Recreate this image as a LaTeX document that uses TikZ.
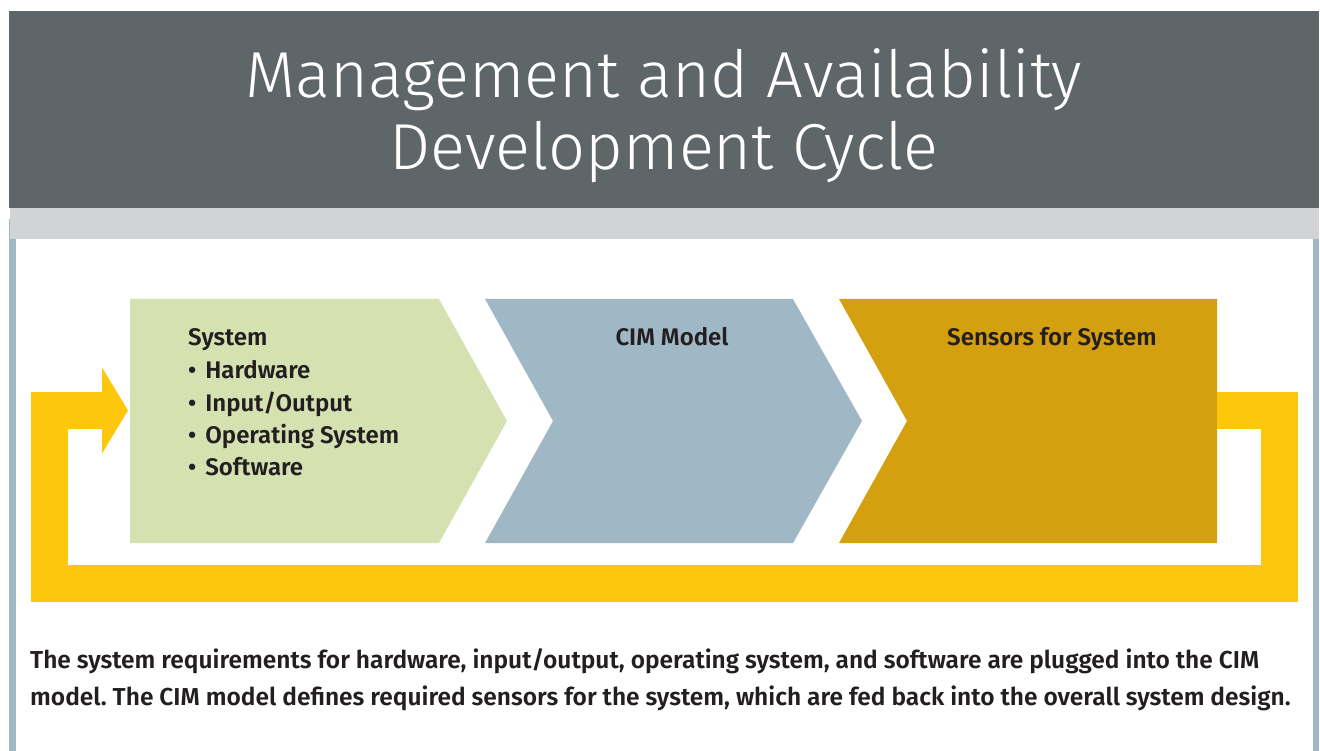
\documentclass[tikz,border=0pt]{standalone}
\usepackage{fontspec}
\setmainfont{Fira Sans}[UprightFont=* SemiBold, BoldFont=* Bold]
\newfontfamily\titlefont{Fira Sans}[UprightFont=* Light]
\usetikzlibrary{arrows.meta}
\frenchspacing

\definecolor{headgray}{HTML}{5F6669}
\definecolor{bandgray}{HTML}{D1D3D4}
\definecolor{frameblue}{HTML}{A0B8C6}
\definecolor{sysgreen}{HTML}{D5E1B1}
\definecolor{cimblue}{HTML}{A0B8C5}
\definecolor{sensgold}{HTML}{D4A00F}
\definecolor{loopyellow}{HTML}{FDC70C}
\definecolor{ink}{HTML}{231F20}

\tikzset{
  boxtext/.style={anchor=base west, inner sep=0pt, text=ink,
    font=\fontsize{24}{24}\selectfont},
  headtext/.style={anchor=base, inner sep=0pt, text=ink,
    font=\fontsize{24}{24}\selectfont},
  titletext/.style={anchor=base, inner sep=0pt, text=white,
    font=\titlefont\fontsize{65}{65}\selectfont},
  captext/.style={anchor=base west, inner sep=0pt, text=ink,
    font=\fontsize{24.5}{24.5}\selectfont},
  feedback/.style={draw=loopyellow, line width=37pt,
    -{Triangle[length=26pt, width=85pt]}}
}
\newcommand{\bul}{\textbullet\hspace{9pt}}

\begin{document}
\begin{tikzpicture}[x=1pt,y=-1pt]
	\useasboundingbox (0,0) rectangle (1320,751);
	
	% Frame and header
	\fill[frameblue] (9,219) rectangle (16,751);
	\fill[frameblue] (1313,219) rectangle (1319,751);
	\fill[headgray] (9,11) rectangle (1319,208);
	\fill[bandgray] (10,208) rectangle (1319,239);
	\node[titletext] (title1) at (664,98) {Management and Availability};
	\node[titletext] (title2) at (664,170) {Development Cycle};
	
	% Chevrons
	\fill[sysgreen] (130,299) -- (439,299) -- (507,421) -- (439,543) -- (130,543) -- cycle;
	\fill[cimblue] (485,299) -- (793,299) -- (862,421) -- (793,543) -- (485,543) -- (553,421) -- cycle;
	\fill[sensgold] (839,299) -- (1217,299) -- (1217,543) -- (839,543) -- (907,421) -- cycle;
	
	% Texts in the chevrons
	\node[boxtext] (sys) at (188,345) {System};
	\node[boxtext] (hw) at (188,378) {\bul Hardware};
	\node[boxtext] (io) at (188,411) {\bul Input/Output};
	\node[boxtext] (os) at (188,443) {\bul Operating System};
	\node[boxtext] (sw) at (188,475) {\bul Software};
	\node[headtext] (cim) at (672,345) {CIM Model};
	\node[headtext] (sens) at (1052,345) {Sensors for System};
	
	% Feedback loop
	\coordinate (loopout) at (1217,410.5);
	\coordinate (loopin) at (128,410.5);
	\draw[feedback] (loopout) -| (1279.5,583.5) -| (49,410.5) -- (loopin);
	
	% Caption
	\node[captext] (cap1) at (30,668.5) {The system requirements for hardware, input/output, operating system, and software are plugged into the CIM};
	\node[captext] (cap2) at (30,705.5) {model. The CIM model defines required sensors for the system, which are fed back into the overall system design.};
\end{tikzpicture}
\end{document}
